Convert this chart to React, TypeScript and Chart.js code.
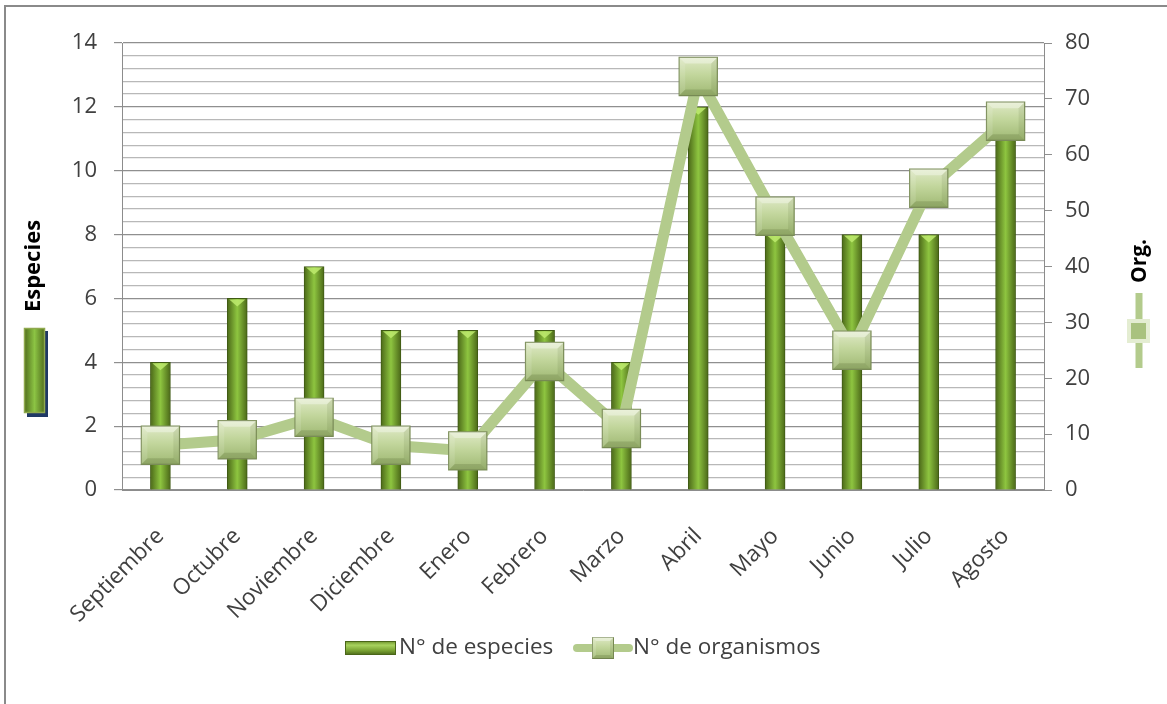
import React, { useEffect, useRef } from "react";
import { Chart, registerables } from "chart.js";

Chart.register(...registerables);

const months = ["Septiembre", "Octubre", "Noviembre", "Diciembre", "Enero", "Febrero", "Marzo", "Abril", "Mayo", "Junio", "Julio", "Agosto"];
const especies = [4, 6, 7, 5, 5, 5, 4, 12, 8, 8, 8, 12];
const organismos = [8, 9, 13, 8, 7, 23, 11, 74, 49, 25, 54, 66];
const leftTicks = { min: 0, max: 14, step: 0.4, labelEvery: 2 };
const rightTicks = { min: 0, max: 80, step: 10 };
const seriesNames = ["N° de especies", "N° de organismos"];
const axisTitles = ["Especies", "Org."];

const FONT = "'Open Sans', Lato, sans-serif";
const TEXT = "#404040";
const LINE_GREEN = "#b3cb8c";

const isMajor = (v: number) => Math.abs(v / leftTicks.labelEvery - Math.round(v / leftTicks.labelEvery)) < 1e-6;

function markerGradient(ctx: CanvasRenderingContext2D, cy: number, h: number) {
  const g = ctx.createLinearGradient(0, cy - h / 2, 0, cy + h / 2);
  g.addColorStop(0, "#dfe9c6");
  g.addColorStop(0.45, "#c2d69c");
  g.addColorStop(1, "#9fb873");
  return g;
}

function drawBevelSquare(ctx: CanvasRenderingContext2D, cx: number, cy: number, s: number, inset: number) {
  const h = s / 2;
  const L = cx - h, R = cx + h, T = cy - h, B = cy + h;
  const l = L + inset, r = R - inset, t = T + inset, b = B - inset;
  ctx.save();
  ctx.fillStyle = "rgba(255,255,255,0.35)";
  ctx.beginPath(); ctx.moveTo(L, T); ctx.lineTo(R, T); ctx.lineTo(r, t); ctx.lineTo(l, t); ctx.closePath(); ctx.fill();
  ctx.fillStyle = "rgba(60,80,30,0.18)";
  ctx.beginPath(); ctx.moveTo(L, B); ctx.lineTo(R, B); ctx.lineTo(r, b); ctx.lineTo(l, b); ctx.closePath(); ctx.fill();
  ctx.fillStyle = "rgba(255,255,255,0.12)";
  ctx.beginPath(); ctx.moveTo(L, T); ctx.lineTo(l, t); ctx.lineTo(l, b); ctx.lineTo(L, B); ctx.closePath(); ctx.fill();
  ctx.fillStyle = "rgba(60,80,30,0.1)";
  ctx.beginPath(); ctx.moveTo(R, T); ctx.lineTo(r, t); ctx.lineTo(r, b); ctx.lineTo(R, B); ctx.closePath(); ctx.fill();
  ctx.restore();
}

const decor = {
  id: "decor",
  afterDatasetDraw(chart: any, args: any) {
    const ctx: CanvasRenderingContext2D = chart.ctx;
    if (args.index === 0) {
      const meta = chart.getDatasetMeta(0);
      ctx.save();
      meta.data.forEach((el: any) => {
        const w = el.width;
        ctx.fillStyle = "rgba(190,235,110,0.85)";
        ctx.beginPath();
        ctx.moveTo(el.x - w / 2 + 2, el.y + 1);
        ctx.lineTo(el.x + w / 2 - 2, el.y + 1);
        ctx.lineTo(el.x, el.y + 8);
        ctx.closePath();
        ctx.fill();
      });
      ctx.restore();
    }
    if (args.index === 1) {
      const meta = chart.getDatasetMeta(1);
      meta.data.forEach((el: any) => drawBevelSquare(ctx, el.x, el.y, 38, 6));
    }
  },
  afterDraw(chart: any) {
    const ctx: CanvasRenderingContext2D = chart.ctx;
    ctx.save();
    ctx.fillStyle = "#000";
    ctx.font = `bold 22px ${FONT}`;
    ctx.textAlign = "center";
    ctx.textBaseline = "middle";
    ctx.save();
    ctx.translate(34, 266);
    ctx.rotate(-Math.PI / 2);
    ctx.fillText(axisTitles[0], 0, 0);
    ctx.restore();
    ctx.fillStyle = "#1f3864";
    ctx.fillRect(27, 331, 21, 86);
    const g1 = ctx.createLinearGradient(24, 0, 45, 0);
    g1.addColorStop(0, "#4f6b1c");
    g1.addColorStop(0.5, "#8cc444");
    g1.addColorStop(1, "#4f6b1c");
    ctx.fillStyle = g1;
    ctx.fillRect(24, 328, 21, 85);
    ctx.strokeStyle = "#8fa94e";
    ctx.lineWidth = 1.5;
    ctx.strokeRect(24.5, 328.5, 20, 84);

    ctx.fillStyle = "#000";
    ctx.font = `bold 21px ${FONT}`;
    ctx.save();
    ctx.translate(1140, 261);
    ctx.rotate(-Math.PI / 2);
    ctx.fillText(axisTitles[1], 0, 0);
    ctx.restore();
    ctx.strokeStyle = LINE_GREEN;
    ctx.lineWidth = 7;
    ctx.beginPath(); ctx.moveTo(1139, 293); ctx.lineTo(1139, 368); ctx.stroke();
    ctx.fillStyle = "#e4edd2";
    ctx.fillRect(1127, 319, 23, 24);
    ctx.fillStyle = "#a9c27f";
    ctx.fillRect(1131, 323, 15, 16);

    const ly = 648;
    const g2 = ctx.createLinearGradient(0, ly - 7, 0, ly + 7);
    g2.addColorStop(0, "#6a8f2a");
    g2.addColorStop(0.3, "#a8d35e");
    g2.addColorStop(0.7, "#77a031");
    g2.addColorStop(1, "#4a6619");
    ctx.fillStyle = g2;
    ctx.fillRect(345, ly - 7, 51, 14);
    ctx.strokeStyle = "#4a6619";
    ctx.lineWidth = 1;
    ctx.strokeRect(345.5, ly - 6.5, 50, 13);
    ctx.fillStyle = TEXT;
    ctx.font = `22.5px ${FONT}`;
    ctx.textAlign = "left";
    ctx.textBaseline = "middle";
    ctx.fillText(seriesNames[0], 399, ly);

    ctx.strokeStyle = LINE_GREEN;
    ctx.lineWidth = 8;
    ctx.lineCap = "round";
    ctx.beginPath(); ctx.moveTo(577, ly); ctx.lineTo(629, ly); ctx.stroke();
    ctx.fillStyle = markerGradient(ctx, ly, 22);
    ctx.fillRect(592, ly - 11, 22, 22);
    ctx.strokeStyle = "#7d8f5a";
    ctx.lineWidth = 1;
    ctx.strokeRect(592.5, ly - 10.5, 21, 21);
    drawBevelSquare(ctx, 603, ly, 22, 4);
    ctx.fillStyle = TEXT;
    ctx.fillText(seriesNames[1], 633, ly);
    ctx.restore();
  },
};

export default function App() {
  const ref = useRef<HTMLCanvasElement | null>(null);
  useEffect(() => {
    if (!ref.current) return;
    const chart = new Chart(ref.current, {
      type: "bar",
      data: {
        labels: months,
        datasets: [
          {
            type: "bar",
            label: seriesNames[0],
            data: especies,
            yAxisID: "y",
            order: 2,
            barThickness: 20,
            borderWidth: 1,
            borderColor: "#3f5a14",
            backgroundColor: (c: any) => {
              const xs = c.chart.scales?.x;
              if (!xs || c.type !== "data") return "#6f9b2c";
              const cx = xs.getPixelForValue(c.dataIndex);
              if (!Number.isFinite(cx)) return "#6f9b2c";
              const g = c.chart.ctx.createLinearGradient(cx - 10, 0, cx + 10, 0);
              g.addColorStop(0, "#4b6818");
              g.addColorStop(0.5, "#8ec540");
              g.addColorStop(1, "#4b6818");
              return g;
            },
          } as any,
          {
            type: "line",
            label: seriesNames[1],
            data: organismos,
            yAxisID: "y1",
            order: 1,
            borderColor: LINE_GREEN,
            borderWidth: 11,
            tension: 0,
            pointStyle: "rect",
            pointRadius: 27,
            pointBorderWidth: 1.2,
            pointBorderColor: "#7d8f5a",
            pointBackgroundColor: (c: any) => {
              const ys = c.chart.scales?.y1;
              if (!ys || c.type !== "data") return "#c2d69c";
              const cy = ys.getPixelForValue(c.raw);
              if (!Number.isFinite(cy)) return "#c2d69c";
              return markerGradient(c.chart.ctx, cy, 38);
            },
          } as any,
        ],
      },
      options: {
        responsive: false,
        animation: false,
        layout: { padding: { left: 0, right: 0, top: 43, bottom: 0 } },
        plugins: { legend: { display: false }, tooltip: { enabled: false } },
        scales: {
          x: {
            grid: { display: false },
            border: { display: true, color: "#8c8c8c" },
            ticks: {
              minRotation: 45,
              maxRotation: 45,
              autoSkip: false,
              padding: 25,
              color: TEXT,
              font: { family: FONT, size: 22.5 },
            },
            afterFit: (s: any) => { s.height = 214; },
          },
          y: {
            position: "left",
            min: leftTicks.min,
            max: leftTicks.max,
            ticks: {
              stepSize: leftTicks.step,
              autoSkip: false,
              padding: 17,
              color: TEXT,
              font: { family: FONT, size: 22 },
              callback: (v: any) => (isMajor(Number(v)) ? String(Math.round(Number(v))) : ""),
            },
            grid: {
              color: (c: any) => (isMajor(c.tick?.value ?? 0) ? "#8f8f8f" : "#b8b8b8"),
              tickColor: (c: any) => (isMajor(c.tick?.value ?? 0) ? "#8f8f8f" : "rgba(0,0,0,0)"),
              tickLength: 8,
              lineWidth: 1.2,
            },
            border: { display: true, color: "#8c8c8c" },
            afterFit: (s: any) => { s.width = 122; },
          },
          y1: {
            position: "right",
            min: rightTicks.min,
            max: rightTicks.max,
            ticks: {
              stepSize: rightTicks.step,
              padding: 13,
              color: TEXT,
              font: { family: FONT, size: 22 },
            },
            grid: { drawOnChartArea: false, tickLength: 8, color: "#8f8f8f" },
            border: { display: true, color: "#8c8c8c" },
            afterFit: (s: any) => { s.width = 123; },
          },
        },
      },
      plugins: [decor],
    } as any);
    return () => chart.destroy();
  }, []);

  return (
    <div style={{ position: "fixed", left: 0, top: 0, width: 1167, height: 704, background: "#fff", overflow: "hidden" }}>
      <div style={{ position: "absolute", left: 4, top: 5, width: 1200, height: 800, borderLeft: "2px solid #8a8a8a", borderTop: "2px solid #8a8a8a" }} />
      <canvas ref={ref} width={1167} height={704} style={{ position: "absolute", left: 0, top: 0 }} />
    </div>
  );
}
